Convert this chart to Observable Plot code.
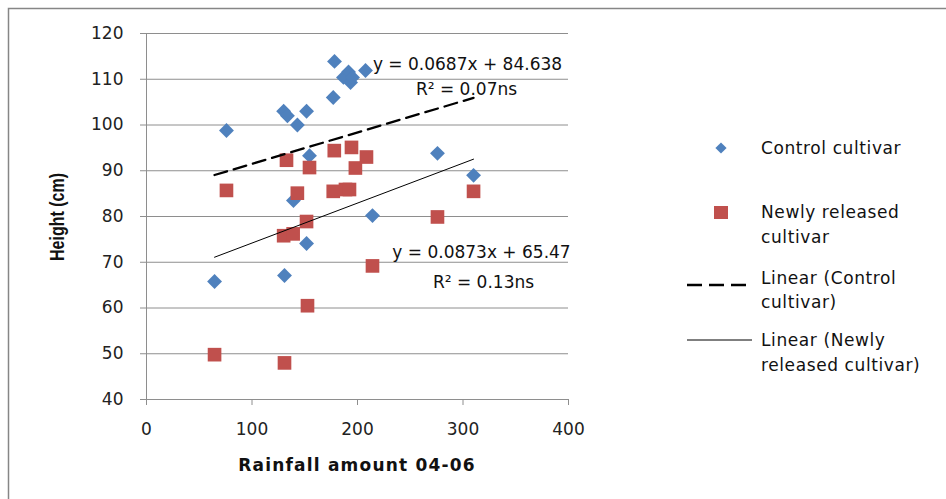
<!DOCTYPE html>
<html>
<head>
<meta charset="utf-8">
<script src="https://cdn.jsdelivr.net/npm/d3@7"></script>
<script src="https://cdn.jsdelivr.net/npm/@observablehq/plot@0.6"></script>
<style>
  html, body { margin: 0; padding: 0; background: #fff; }
  #wrap { position: relative; width: 946px; height: 499px; overflow: hidden; }
  #wrap svg { position: absolute; left: 0; top: 0; }
</style>
</head>
<body>
<div id="wrap"></div>
<script>
// ---- data ----
const controlX = [64.5, 75.8, 130, 133.6, 143, 151.7, 154.5, 139.3, 151.7, 130.8, 178.2, 177, 186.7, 191.5, 193.4, 195.3, 207.6, 214.2, 275.8, 310];
const controlY = [65.8, 98.8, 103, 102, 100, 103, 93.3, 83.5, 74.1, 67.1, 113.9, 106, 110.4, 111.6, 109.3, 110.4, 111.9, 80.2, 93.8, 89];
const newX = [64.5, 75.8, 130, 132.7, 139, 143, 151.7, 154.5, 152.6, 130.8, 178, 177, 188.6, 192.4, 194.3, 198, 208.5, 214.2, 275.8, 310];
const newY = [49.8, 85.7, 75.8, 92.3, 76.2, 85.1, 78.9, 90.7, 60.5, 48, 94.4, 85.5, 85.9, 85.9, 95.1, 90.6, 93, 69.2, 79.9, 85.5];
const trendSlope = [0.0687, 0.0873];
const trendIntercept = [84.638, 65.47];
const trendR2 = ["0.07ns", "0.13ns"];
const xTicks = [0, 100, 200, 300, 400];
const yTicks = [40, 50, 60, 70, 80, 90, 100, 110, 120];
const seriesNames = ["Control cultivar", "Newly released cultivar"];
const legendLabels = [["Control cultivar"], ["Newly released", "cultivar"], ["Linear (Control", "cultivar)"], ["Linear (Newly", "released cultivar)"]];
const xTitle = "Rainfall amount 04-06";
const yTitle = "Height (cm)";

const blue = "#4F81BD", red = "#C0504D", gridC = "#8e8e8e";

const control = controlX.map((x, i) => ({x, y: controlY[i]}));
const newly = newX.map((x, i) => ({x, y: newY[i]}));
function trend(xs, k) {
  const [a, b] = d3.extent(xs);
  return [a, b].map(x => ({x, y: trendSlope[k] * x + trendIntercept[k]}));
}
const eq = k => `y = ${trendSlope[k]}x + ${trendIntercept[k]}`;
const r2 = k => `R² = ${trendR2[k]}`;
const txtStyle = {letterSpacing: "0.8px"};

const chart = Plot.plot({
  width: 946, height: 499,
  marginLeft: 146, marginRight: 378, marginTop: 33, marginBottom: 100,
  x: {domain: [0, 400]},
  y: {domain: [40, 120]},
  style: {fontFamily: "DejaVu Sans", fontSize: "17px", background: "transparent", color: "#1a1a1a"},
  marks: [
    Plot.ruleY(yTicks, {stroke: gridC, strokeWidth: 1}),
    Plot.ruleX([0], {stroke: gridC, strokeWidth: 1}),
    Plot.axisY(yTicks, {tickSize: 6, tickPadding: 17, label: null, stroke: gridC, style: {letterSpacing: "2px"}, fill: "#222"}),
    Plot.axisX(xTicks, {tickSize: 6, tickPadding: 17, label: null, stroke: gridC, style: {letterSpacing: "2px"}, fill: "#222"}),
    Plot.dot(control, {x: "x", y: "y", symbol: "diamond2", r: 6.7, fill: blue, stroke: "none"}),
    Plot.dot(newly, {x: "x", y: "y", symbol: "square", r: 7.7, fill: red, stroke: "none"}),
    Plot.line(trend(controlX, 0), {x: "x", y: "y", stroke: "#000", strokeWidth: 2.3, strokeDasharray: "13,7"}),
    Plot.line(trend(newX, 1), {x: "x", y: "y", stroke: "#000", strokeWidth: 1}),
    Plot.text([eq(0)], {text: d => d, frameAnchor: "top-right", dx: -101, dy: 24, textAnchor: "middle", fill: "#111", style: txtStyle}),
    Plot.text([r2(0)], {text: d => d, frameAnchor: "top-right", dx: -102, dy: 49, textAnchor: "middle", fill: "#111", style: txtStyle}),
    Plot.text([eq(1)], {text: d => d, frameAnchor: "top-right", dx: -87, dy: 212, textAnchor: "middle", fill: "#111", style: txtStyle}),
    Plot.text([r2(1)], {text: d => d, frameAnchor: "top-right", dx: -85, dy: 242, textAnchor: "middle", fill: "#111", style: txtStyle})
  ]
});
document.getElementById("wrap").appendChild(chart);

// overlay: border, axis titles, legend
const ov = d3.select("#wrap").append("svg").attr("width", 946).attr("height", 499)
  .style("font-family", "DejaVu Sans").style("font-size", "17px");
ov.append("rect").attr("x", 8.5).attr("y", 8.5).attr("width", 960).attr("height", 520)
  .attr("fill", "none").attr("stroke", "#868686").attr("stroke-width", 1.5);

ov.append("text").attr("x", 357).attr("y", 465).attr("text-anchor", "middle").attr("dy", "0.35em")
  .attr("font-weight", "bold").attr("font-size", 17).style("letter-spacing", "1.2px").attr("fill", "#111").text(xTitle);
ov.append("text").attr("transform", "translate(57,217) scale(1.3,1) rotate(-90)").attr("text-anchor", "middle").attr("dy", "0.35em")
  .attr("font-family", "Liberation Sans").attr("font-weight", "bold").attr("font-size", 16).attr("fill", "#111").text(yTitle);

const lg = ov.append("g").attr("fill", "#111").style("letter-spacing", "0.6px");
const rows = [[148], [212, 237], [278, 302], [340, 365]];
legendLabels.forEach((lines, i) => {
  lines.forEach((t, j) => {
    lg.append("text").attr("x", 761).attr("y", rows[i][j]).attr("dy", "0.35em").text(t);
  });
});
// swatches
lg.append("path").attr("d", d3.symbol(d3.symbolDiamond2, 80)()).attr("transform", "translate(721,148)").attr("fill", blue);
lg.append("rect").attr("x", 714).attr("y", 206).attr("width", 14).attr("height", 13).attr("fill", red);
lg.append("line").attr("x1", 687).attr("x2", 752).attr("y1", 285).attr("y2", 285)
  .attr("stroke", "#000").attr("stroke-width", 2.3).attr("stroke-dasharray", "15,7");
lg.append("line").attr("x1", 687).attr("x2", 752).attr("y1", 340).attr("y2", 340)
  .attr("stroke", "#000").attr("stroke-width", 1);
</script>
</body>
</html>
